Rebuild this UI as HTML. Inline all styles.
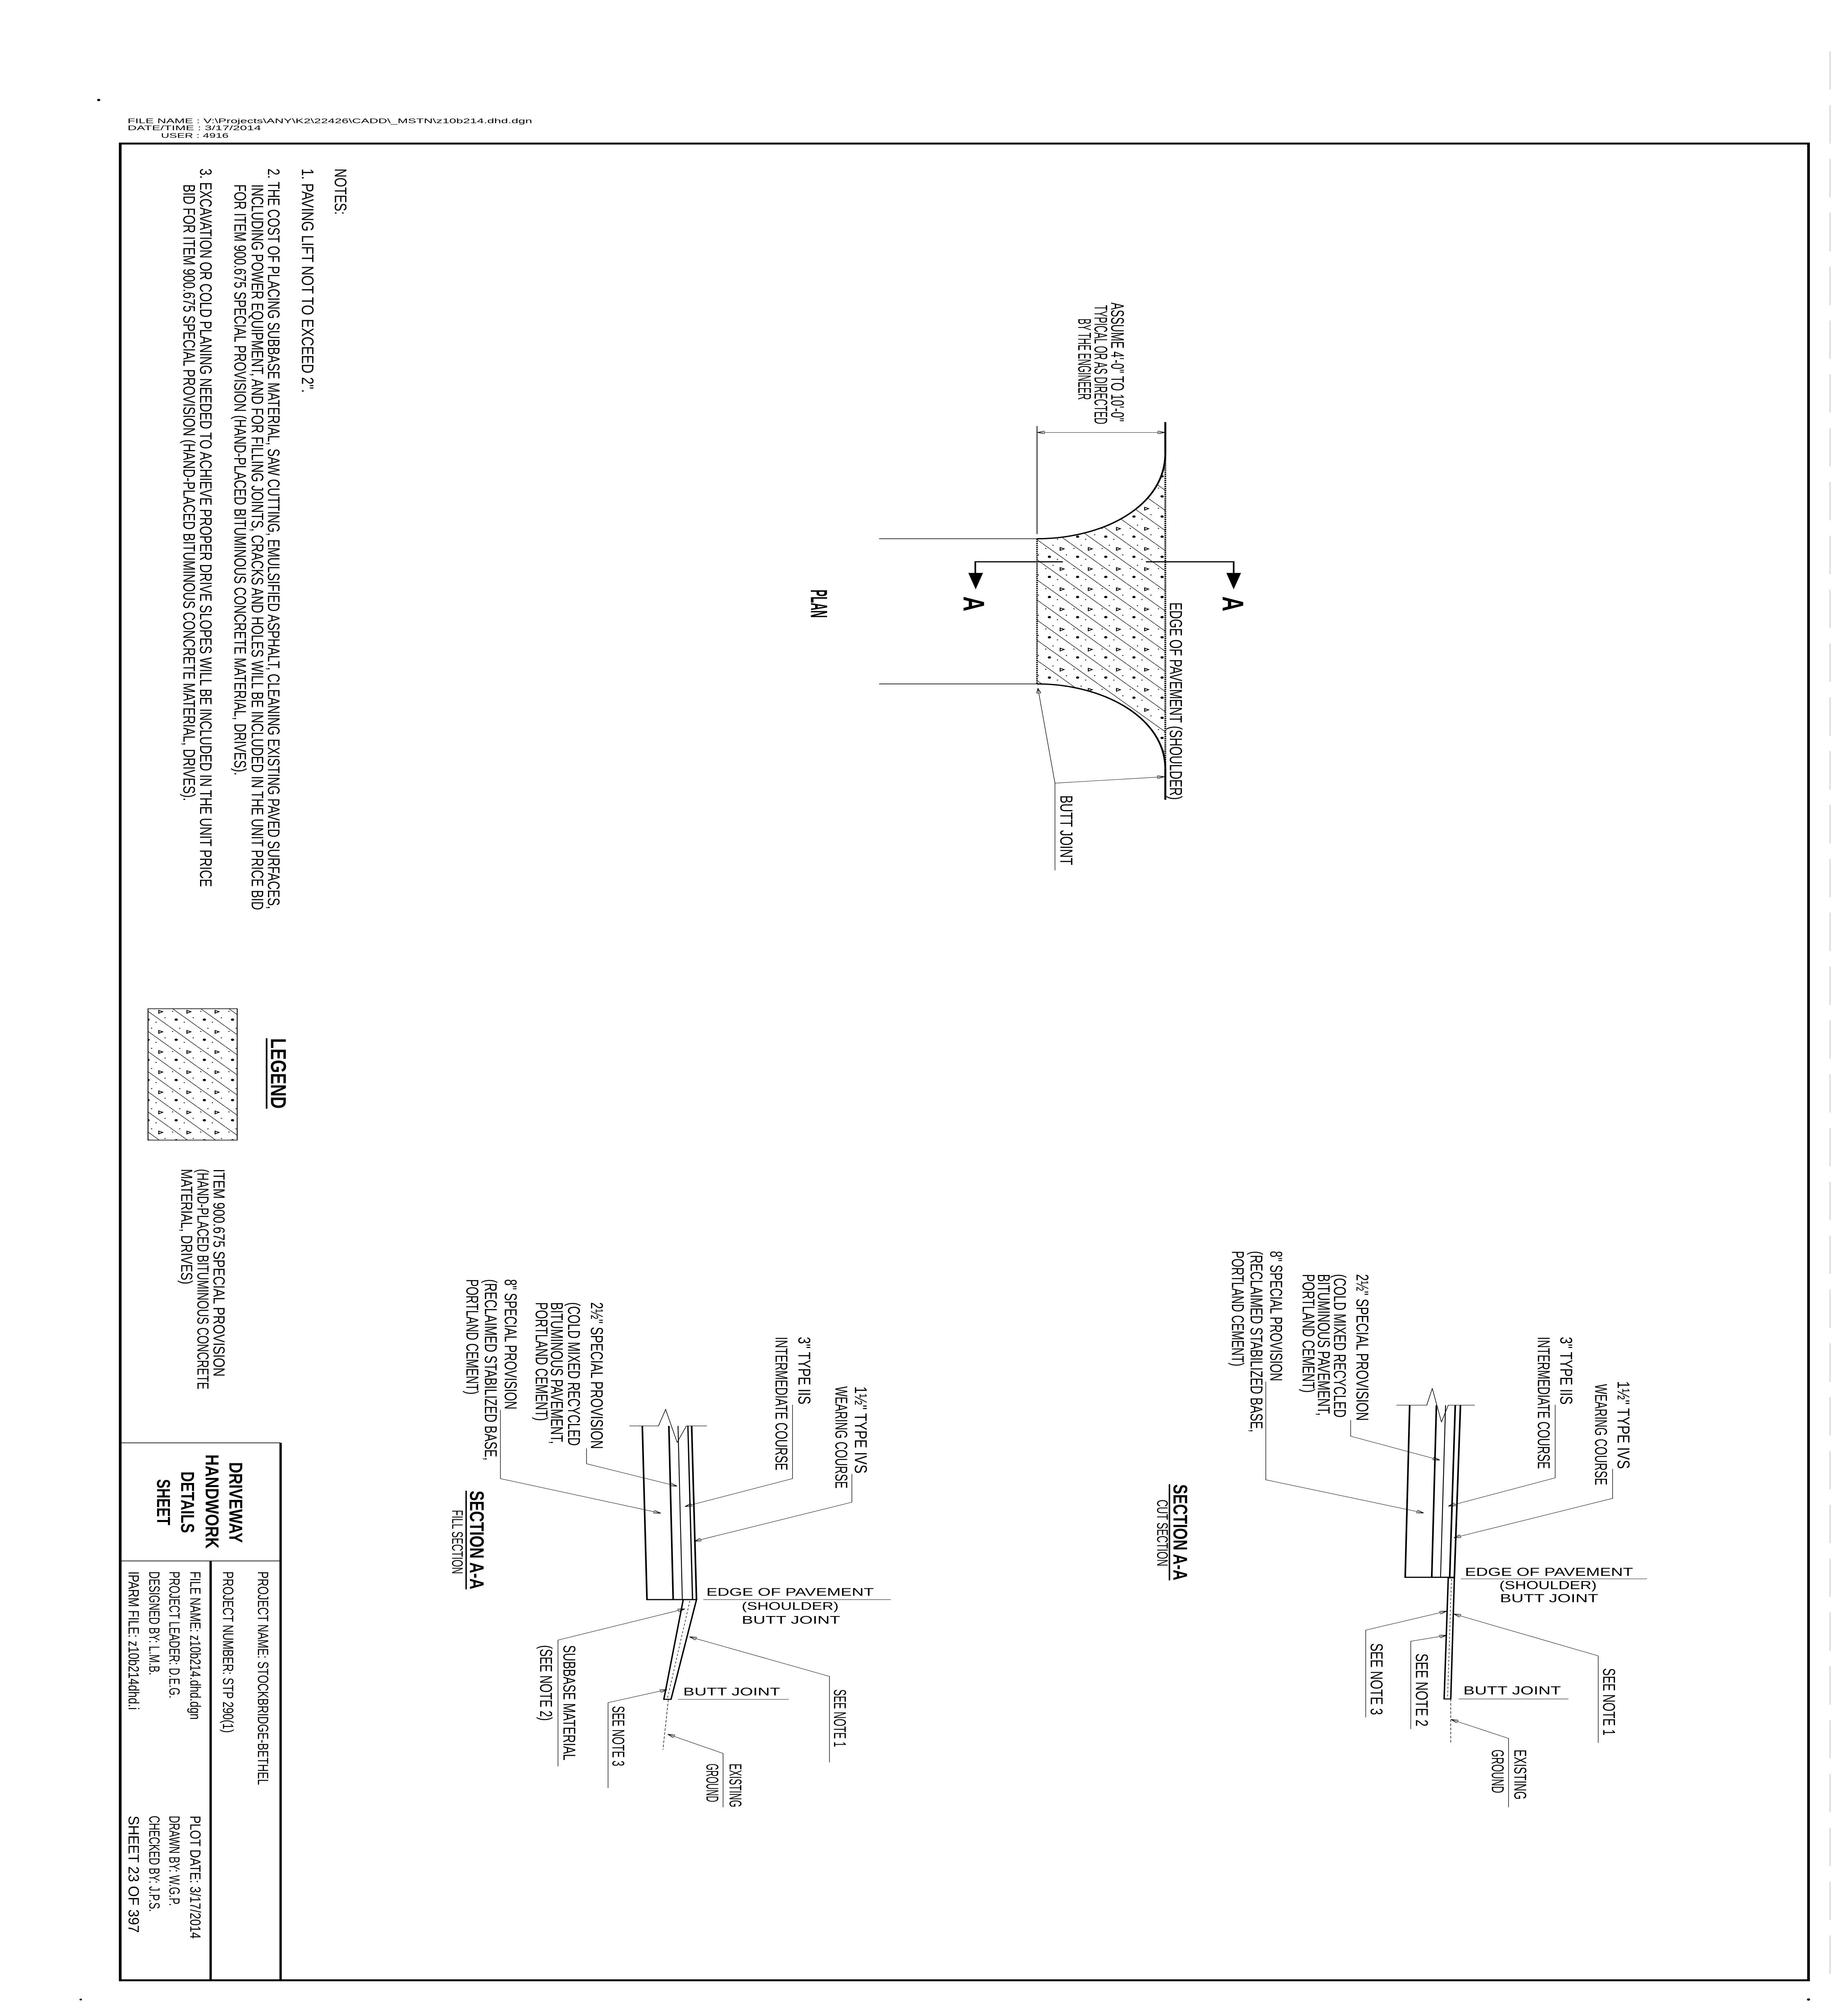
<!DOCTYPE html>
<html><head><meta charset="utf-8">
<style>
html,body{margin:0;padding:0;background:#fff;width:100%;height:100%;overflow:hidden;}
svg{display:block;position:fixed;left:0;top:0;width:100vw;height:100vh;}
text{font-family:"Liberation Sans Narrow","Liberation Sans",sans-serif;fill:#000;}
.b{font-weight:bold;}
</style></head>
<body>
<svg xmlns="http://www.w3.org/2000/svg" viewBox="0 0 1030 1567.4" preserveAspectRatio="none">
<defs>
<marker id="ar" viewBox="0 0 10 6" refX="10" refY="3" markerWidth="4" markerHeight="2.4" markerUnits="userSpaceOnUse" orient="auto">
<path d="M0,0 L10,3 L0,6 Z" fill="none" stroke="#000" stroke-width="1"/>
</marker>
<pattern id="hat" patternUnits="userSpaceOnUse" width="15.7" height="15.7">
<line x1="-1" y1="-1" x2="16.7" y2="16.7" stroke="#000" stroke-width="0.35"/>
<circle cx="4" cy="10.5" r="0.9" fill="#000"/>
<path d="M10,3.3 L12.2,4.3 L10,5.5 Z" fill="none" stroke="#000" stroke-width="0.55"/>
<circle cx="2" cy="4" r="0.35" fill="#000"/>
<circle cx="8.5" cy="12.5" r="0.35" fill="#000"/>
<circle cx="13.5" cy="9" r="0.35" fill="#000"/>
<circle cx="6" cy="1.5" r="0.35" fill="#000"/>
</pattern>
</defs>

<rect x="0" y="0" width="1030" height="1567.4" fill="#fff"/>

<circle cx="55" cy="78" r="0.9" fill="#000"/>
<circle cx="45" cy="1560" r="0.7" fill="#000"/>
<circle cx="1008" cy="1560" r="0.9" fill="#000"/>
<line x1="1020" y1="40" x2="1020" y2="1540" stroke="#ddd" stroke-width="0.8" stroke-dasharray="30 12"/>

<text x="71.1" y="96.1" font-size="5.1" textLength="225.5" lengthAdjust="spacingAndGlyphs">FILE NAME : V:\Projects\ANY\K2\22426\CADD\_MSTN\z10b214.dhd.dgn</text>
<text x="71.1" y="101.6" font-size="5.1" textLength="74.4" lengthAdjust="spacingAndGlyphs">DATE/TIME : 3/17/2014</text>
<text x="89.7" y="107.5" font-size="5.1" textLength="37.7" lengthAdjust="spacingAndGlyphs">USER : 4916</text>

<rect x="67" y="112" width="941" height="1433" fill="none" stroke="#000" stroke-width="1.5"/>

<g font-size="9.4">
<text transform="translate(186.6,131.5) rotate(90)" textLength="36" lengthAdjust="spacingAndGlyphs">NOTES:</text>
<text transform="translate(168.3,131.5) rotate(90)" textLength="175" lengthAdjust="spacingAndGlyphs">1. PAVING LIFT NOT TO EXCEED 2".</text>
<text transform="translate(149.3,131.5) rotate(90)" textLength="577.8" lengthAdjust="spacingAndGlyphs">2. THE COST OF PLACING SUBBASE MATERIAL, SAW CUTTING, EMULSIFIED ASPHALT, CLEANING EXISTING PAVED SURFACES,</text>
<text transform="translate(140.3,143.8) rotate(90)" textLength="566.2" lengthAdjust="spacingAndGlyphs">INCLUDING POWER EQUIPMENT, AND FOR FILLING JOINTS, CRACKS AND HOLES WILL BE INCLUDED IN THE UNIT PRICE BID</text>
<text transform="translate(130.7,143.8) rotate(90)" textLength="461.2" lengthAdjust="spacingAndGlyphs">FOR ITEM 900.675 SPECIAL PROVISION (HAND-PLACED BITUMINOUS CONCRETE MATERIAL, DRIVES).</text>
<text transform="translate(111.5,131.5) rotate(90)" textLength="560.5" lengthAdjust="spacingAndGlyphs">3. EXCAVATION OR COLD PLANING NEEDED TO ACHIEVE PROPER DRIVE SLOPES WILL BE INCLUDED IN THE UNIT PRICE</text>
<text transform="translate(102.2,143.8) rotate(90)" textLength="481.2" lengthAdjust="spacingAndGlyphs">BID FOR ITEM 900.675 SPECIAL PROVISION (HAND-PLACED BITUMINOUS CONCRETE MATERIAL, DRIVES).</text>
</g>

<g>
<path d="M649.5,353.5 C649.5,395 615,420.3 578,420.3 L578,533.6 C615,533.6 649.5,560 649.5,600 Z" fill="url(#hat)" stroke="none"/>
<path d="M649.5,353.5 C649.5,395 615,420.3 578,420.3" fill="none" stroke="#000" stroke-width="1"/>
<path d="M578,533.6 C615,533.6 649.5,560 649.5,600" fill="none" stroke="#000" stroke-width="1"/>
<line x1="649.5" y1="329.3" x2="649.5" y2="353.5" stroke="#000" stroke-width="1.1"/>
<line x1="649.5" y1="600" x2="649.5" y2="624" stroke="#000" stroke-width="1.1"/>
<line x1="649.5" y1="353.5" x2="649.5" y2="600" stroke="#000" stroke-width="1" stroke-dasharray="1 0.6"/>
<line x1="578" y1="332.4" x2="578" y2="416.6" stroke="#000" stroke-width="0.45"/>
<line x1="578" y1="420.3" x2="578" y2="533.6" stroke="#000" stroke-width="0.9" stroke-dasharray="1 0.6"/>
<line x1="490" y1="420.3" x2="578" y2="420.3" stroke="#000" stroke-width="0.5"/>
<line x1="490" y1="533.6" x2="578" y2="533.6" stroke="#000" stroke-width="0.5"/>
<line x1="610" y1="337.4" x2="578.3" y2="337.4" stroke="#000" stroke-width="0.3" marker-end="url(#ar)"/>
<line x1="610" y1="337.4" x2="649.2" y2="337.4" stroke="#000" stroke-width="0.3" marker-end="url(#ar)"/>
<g font-size="10.2">
<text transform="translate(619.3,236) rotate(90)" textLength="93" lengthAdjust="spacingAndGlyphs">ASSUME 4'-0" TO 10'-0"</text>
<text transform="translate(610.1,238) rotate(90)" textLength="93" lengthAdjust="spacingAndGlyphs">TYPICAL OR AS DIRECTED</text>
<text transform="translate(601,248.5) rotate(90)" textLength="63.5" lengthAdjust="spacingAndGlyphs">BY THE ENGINEER</text>
</g>
<path d="M592.4,438.3 L543.6,438.3 L543.6,448" fill="none" stroke="#000" stroke-width="0.9"/>
<path d="M539.7,447 L547.9,447 L543.8,459.8 Z" fill="#000"/>
<path d="M638.7,438.3 L687.6,438.3 L687.6,448" fill="none" stroke="#000" stroke-width="0.9"/>
<path d="M683.5,447 L691.7,447 L687.6,459.8 Z" fill="#000"/>
<text class="b" transform="translate(537,465.3) rotate(90)" font-size="16.6" textLength="11.7" lengthAdjust="spacingAndGlyphs">A</text>
<text class="b" transform="translate(681.5,465.3) rotate(90)" font-size="16.6" textLength="11.7" lengthAdjust="spacingAndGlyphs">A</text>
<text transform="translate(652,470) rotate(90)" font-size="9.7" textLength="154" lengthAdjust="spacingAndGlyphs">EDGE OF PAVEMENT (SHOULDER)</text>
<path d="M588,611 L578.5,537" fill="none" stroke="#000" stroke-width="0.3" marker-end="url(#ar)"/>
<path d="M588,611 L649,606" fill="none" stroke="#000" stroke-width="0.3" marker-end="url(#ar)"/>
<line x1="588" y1="611" x2="588" y2="679" stroke="#000" stroke-width="0.3"/>
<text transform="translate(591,620.5) rotate(90)" font-size="9.7" textLength="54.5" lengthAdjust="spacingAndGlyphs">BUTT JOINT</text>
<text class="b" transform="translate(452,460) rotate(90)" font-size="13" textLength="22" lengthAdjust="spacingAndGlyphs">PLAN</text>
</g>

<rect x="82.5" y="787" width="49.7" height="102.5" fill="url(#hat)" stroke="#000" stroke-width="0.5"/>
<text class="b" transform="translate(151,810) rotate(90)" font-size="12" textLength="55" lengthAdjust="spacingAndGlyphs">LEGEND</text>
<line x1="148.6" y1="810" x2="148.6" y2="865" stroke="#000" stroke-width="0.9"/>
<g font-size="9">
<text transform="translate(119,912) rotate(90)" textLength="162" lengthAdjust="spacingAndGlyphs">ITEM 900.675 SPECIAL PROVISION</text>
<text transform="translate(110,912) rotate(90)" textLength="172" lengthAdjust="spacingAndGlyphs">(HAND-PLACED BITUMINOUS CONCRETE</text>
<text transform="translate(101,912) rotate(90)" textLength="90" lengthAdjust="spacingAndGlyphs">MATERIAL, DRIVES)</text>
</g>

<g>
<path d="M350.9,1112.5 L367,1112.5 L371,1099.6 L377.4,1125.3 L382.6,1112.5 L394,1112.5" fill="none" stroke="#000" stroke-width="0.35"/>
<line x1="358" y1="1112.5" x2="360.6" y2="1248" stroke="#000" stroke-width="0.9"/>
<line x1="372.8" y1="1112.5" x2="375.2" y2="1248" stroke="#000" stroke-width="0.9"/>
<line x1="377.9" y1="1112.5" x2="380.3" y2="1248" stroke="#000" stroke-width="0.5"/>
<line x1="383.4" y1="1112.5" x2="386" y2="1248" stroke="#000" stroke-width="0.7"/>
<line x1="385.5" y1="1112.5" x2="388.2" y2="1248" stroke="#000" stroke-width="0.9"/>
<line x1="360.2" y1="1248" x2="388.6" y2="1248" stroke="#000" stroke-width="0.9"/>
<path d="M380.8,1248 L388.2,1248 L374,1325.8 L370,1325.8 Z" fill="none" stroke="#000" stroke-width="0.8"/>
<line x1="384.5" y1="1249" x2="372" y2="1325" stroke="#000" stroke-width="0.3" stroke-dasharray="1.5 1.5"/>
<line x1="372.5" y1="1326" x2="369.5" y2="1365" stroke="#000" stroke-width="0.3" stroke-dasharray="2 1.2"/>
<g fill="none" stroke="#000" stroke-width="0.3">
<path d="M474.8,1150 L474.8,1172 L386.9,1202.5" marker-end="url(#ar)"/>
<path d="M441.7,1096 L441.7,1153.6 L381.7,1175.4" marker-end="url(#ar)"/>
<path d="M326.9,1130 L326.9,1142 L377.4,1159.5" marker-end="url(#ar)"/>
<path d="M278.9,1100 L278.9,1153.6 L368.3,1180.6" marker-end="url(#ar)"/>
<path d="M311,1378 L311,1279.6 L381.7,1255.2" marker-end="url(#ar)"/>
<path d="M462.3,1375 L462.3,1307.9 L384.3,1277" marker-end="url(#ar)"/>
<path d="M338.9,1395 L338.9,1328.4 L371.8,1318.2" marker-end="url(#ar)"/>
<path d="M403,1410 L403,1368 L372.2,1353" marker-end="url(#ar)"/>
<line x1="392" y1="1248" x2="496.5" y2="1248"/>
<line x1="377.9" y1="1325.8" x2="439.6" y2="1325.8"/>
</g>
<g font-size="9.5">
<text transform="translate(476.5,1081.6) rotate(90)" textLength="68" lengthAdjust="spacingAndGlyphs">1½" TYPE IVS</text>
<text transform="translate(465.6,1081.6) rotate(90)" textLength="79.7" lengthAdjust="spacingAndGlyphs">WEARING COURSE</text>
<text transform="translate(445,1043) rotate(90)" textLength="52.7" lengthAdjust="spacingAndGlyphs">3" TYPE IIS</text>
<text transform="translate(432.3,1043) rotate(90)" textLength="104.2" lengthAdjust="spacingAndGlyphs">INTERMEDIATE COURSE</text>
<text transform="translate(329.4,1016) rotate(90)" textLength="114.5" lengthAdjust="spacingAndGlyphs">2½" SPECIAL PROVISION</text>
<text transform="translate(316.6,1016) rotate(90)" textLength="112" lengthAdjust="spacingAndGlyphs">(COLD MIXED RECYCLED</text>
<text transform="translate(307.1,1016) rotate(90)" textLength="110.6" lengthAdjust="spacingAndGlyphs">BITUMINOUS PAVEMENT,</text>
<text transform="translate(298.6,1016) rotate(90)" textLength="92.6" lengthAdjust="spacingAndGlyphs">PORTLAND CEMENT)</text>
<text transform="translate(281.4,998) rotate(90)" textLength="101.6" lengthAdjust="spacingAndGlyphs">8" SPECIAL PROVISION</text>
<text transform="translate(270.3,998) rotate(90)" textLength="141.5" lengthAdjust="spacingAndGlyphs">(RECLAIMED STABILIZED BASE,</text>
<text transform="translate(260,998) rotate(90)" textLength="90" lengthAdjust="spacingAndGlyphs">PORTLAND CEMENT)</text>
<text transform="translate(314,1283.5) rotate(90)" textLength="89.9" lengthAdjust="spacingAndGlyphs">SUBBASE MATERIAL</text>
<text transform="translate(301.1,1283.5) rotate(90)" textLength="59.1" lengthAdjust="spacingAndGlyphs">(SEE NOTE 2)</text>
<text transform="translate(464.8,1318) rotate(90)" textLength="45" lengthAdjust="spacingAndGlyphs">SEE NOTE 1</text>
<text transform="translate(341.4,1331) rotate(90)" textLength="47" lengthAdjust="spacingAndGlyphs">SEE NOTE 3</text>
<text transform="translate(406.6,1376) rotate(90)" textLength="34" lengthAdjust="spacingAndGlyphs">EXISTING</text>
<text transform="translate(393.7,1376) rotate(90)" textLength="30" lengthAdjust="spacingAndGlyphs">GROUND</text>
</g>
<g font-size="8.6">
<text x="393.7" y="1245" textLength="93.3" lengthAdjust="spacingAndGlyphs">EDGE OF PAVEMENT</text>
<text x="413.4" y="1255.9" textLength="54" lengthAdjust="spacingAndGlyphs">(SHOULDER)</text>
<text x="413.4" y="1266.7" textLength="54.9" lengthAdjust="spacingAndGlyphs">BUTT JOINT</text>
<text x="380.8" y="1322.8" textLength="54" lengthAdjust="spacingAndGlyphs">BUTT JOINT</text>
</g>
<text class="b" transform="translate(262,1163) rotate(90)" font-size="11" textLength="77" lengthAdjust="spacingAndGlyphs">SECTION A-A</text>
<line x1="259.8" y1="1163" x2="259.8" y2="1240" stroke="#000" stroke-width="0.8"/>
<text transform="translate(252,1178) rotate(90)" font-size="8.5" textLength="50" lengthAdjust="spacingAndGlyphs">FILL SECTION</text>
</g>

<g>
<path d="M778.3,1096.3 L795.2,1096.3 L798.3,1083.2 L803.4,1109.5 L807.2,1096.3 L822,1096.3" fill="none" stroke="#000" stroke-width="0.35"/>
<line x1="785.7" y1="1096.3" x2="783.2" y2="1230.6" stroke="#000" stroke-width="0.9"/>
<line x1="800.6" y1="1096.3" x2="798" y2="1230.6" stroke="#000" stroke-width="0.9"/>
<line x1="805.7" y1="1096.3" x2="802.9" y2="1230.6" stroke="#000" stroke-width="0.5"/>
<line x1="811.1" y1="1096.3" x2="808" y2="1230.6" stroke="#000" stroke-width="0.9"/>
<line x1="814" y1="1096.3" x2="810.6" y2="1230.6" stroke="#000" stroke-width="0.9"/>
<line x1="782.8" y1="1230.6" x2="811" y2="1230.6" stroke="#000" stroke-width="0.9"/>
<path d="M807.2,1231 L810.6,1231 L808.6,1325.5 L804.9,1325.5 Z" fill="none" stroke="#000" stroke-width="0.8"/>
<line x1="809" y1="1232" x2="806.8" y2="1325" stroke="#000" stroke-width="0.3" stroke-dasharray="1.5 1.5"/>
<line x1="808.6" y1="1325.5" x2="808.6" y2="1359.7" stroke="#000" stroke-width="0.3" stroke-dasharray="2 1.2"/>
<g fill="none" stroke="#000" stroke-width="0.3">
<path d="M898.8,1146 L898.8,1169 L810.3,1199.8" marker-end="url(#ar)"/>
<path d="M866.8,1096 L866.8,1153 L807.2,1175.1" marker-end="url(#ar)"/>
<path d="M752.8,1108 L752.8,1120.5 L802.5,1139.2" marker-end="url(#ar)"/>
<path d="M705.5,1078 L705.5,1154.5 L793.5,1180.4" marker-end="url(#ar)"/>
<path d="M890.8,1359.7 L890.8,1291.9 L810.3,1259.2" marker-end="url(#ar)"/>
<path d="M786.3,1349 L786.3,1280.5 L806.3,1275.9" marker-end="url(#ar)"/>
<path d="M761.2,1339.9 L761.2,1271.8 L806.3,1257" marker-end="url(#ar)"/>
<path d="M840.8,1410 L840.8,1356.3 L808.8,1341.5" marker-end="url(#ar)"/>
<line x1="814.3" y1="1231.8" x2="918" y2="1231.8"/>
<line x1="813.1" y1="1325.5" x2="874.2" y2="1325.5"/>
</g>
<g font-size="9.5">
<text transform="translate(901.6,1077.5) rotate(90)" textLength="68.5" lengthAdjust="spacingAndGlyphs">1½" TYPE IVS</text>
<text transform="translate(889,1079.8) rotate(90)" textLength="78.9" lengthAdjust="spacingAndGlyphs">WEARING COURSE</text>
<text transform="translate(869.7,1043) rotate(90)" textLength="52.8" lengthAdjust="spacingAndGlyphs">3" TYPE IIS</text>
<text transform="translate(857.1,1043) rotate(90)" textLength="103" lengthAdjust="spacingAndGlyphs">INTERMEDIATE COURSE</text>
<text transform="translate(756,994) rotate(90)" textLength="114.5" lengthAdjust="spacingAndGlyphs">2½" SPECIAL PROVISION</text>
<text transform="translate(743.5,994) rotate(90)" textLength="112" lengthAdjust="spacingAndGlyphs">(COLD MIXED RECYCLED</text>
<text transform="translate(734.5,994) rotate(90)" textLength="110.6" lengthAdjust="spacingAndGlyphs">BITUMINOUS PAVEMENT,</text>
<text transform="translate(726,994) rotate(90)" textLength="92.6" lengthAdjust="spacingAndGlyphs">PORTLAND CEMENT)</text>
<text transform="translate(708,976) rotate(90)" textLength="101.6" lengthAdjust="spacingAndGlyphs">8" SPECIAL PROVISION</text>
<text transform="translate(697,976) rotate(90)" textLength="141.5" lengthAdjust="spacingAndGlyphs">(RECLAIMED STABILIZED BASE,</text>
<text transform="translate(686.6,976) rotate(90)" textLength="90" lengthAdjust="spacingAndGlyphs">PORTLAND CEMENT)</text>
<text transform="translate(893.5,1301.5) rotate(90)" textLength="52.5" lengthAdjust="spacingAndGlyphs">SEE NOTE 1</text>
<text transform="translate(789.2,1290) rotate(90)" textLength="57" lengthAdjust="spacingAndGlyphs">SEE NOTE 2</text>
<text transform="translate(764,1282) rotate(90)" textLength="56" lengthAdjust="spacingAndGlyphs">SEE NOTE 3</text>
<text transform="translate(844,1365) rotate(90)" textLength="39" lengthAdjust="spacingAndGlyphs">EXISTING</text>
<text transform="translate(831.5,1365) rotate(90)" textLength="34" lengthAdjust="spacingAndGlyphs">GROUND</text>
</g>
<g font-size="9">
<text x="816.5" y="1229.5" textLength="93.7" lengthAdjust="spacingAndGlyphs">EDGE OF PAVEMENT</text>
<text x="835.7" y="1239.8" textLength="54.2" lengthAdjust="spacingAndGlyphs">(SHOULDER)</text>
<text x="836" y="1250" textLength="54.8" lengthAdjust="spacingAndGlyphs">BUTT JOINT</text>
<text x="815.6" y="1322" textLength="54.4" lengthAdjust="spacingAndGlyphs">BUTT JOINT</text>
</g>
<text class="b" transform="translate(654,1158) rotate(90)" font-size="11" textLength="75" lengthAdjust="spacingAndGlyphs">SECTION A-A</text>
<line x1="651.8" y1="1158" x2="651.8" y2="1233" stroke="#000" stroke-width="0.8"/>
<text transform="translate(645,1170) rotate(90)" font-size="8.5" textLength="52" lengthAdjust="spacingAndGlyphs">CUT SECTION</text>
</g>

<g stroke="#000" fill="none">
<line x1="67" y1="1125.7" x2="156.4" y2="1125.7" stroke-width="0.5"/>
<line x1="156.4" y1="1125.7" x2="156.4" y2="1545" stroke-width="1.3"/>
<line x1="67" y1="1217.8" x2="156.4" y2="1217.8" stroke-width="0.5"/>
<line x1="117.4" y1="1217.8" x2="117.4" y2="1545" stroke-width="1.3"/>
</g>
<g font-size="10.4">
<text class="b" transform="translate(127.8,1140.7) rotate(90)" textLength="63" lengthAdjust="spacingAndGlyphs">DRIVEWAY</text>
<text class="b" transform="translate(114.6,1134.7) rotate(90)" textLength="73.5" lengthAdjust="spacingAndGlyphs">HANDWORK</text>
<text class="b" transform="translate(101,1148) rotate(90)" textLength="48" lengthAdjust="spacingAndGlyphs">DETAILS</text>
<text class="b" transform="translate(87.6,1154) rotate(90)" textLength="36" lengthAdjust="spacingAndGlyphs">SHEET</text>
</g>
<g font-size="8.2">
<text transform="translate(143.7,1226) rotate(90)" textLength="166.6" lengthAdjust="spacingAndGlyphs">PROJECT NAME:   STOCKBRIDGE-BETHEL</text>
<text transform="translate(124.3,1226) rotate(90)" textLength="126" lengthAdjust="spacingAndGlyphs">PROJECT NUMBER: STP 290(1)</text>
<text transform="translate(106,1226) rotate(90)" textLength="115.6" lengthAdjust="spacingAndGlyphs">FILE NAME: z10b214.dhd.dgn</text>
<text transform="translate(94.4,1226) rotate(90)" textLength="99" lengthAdjust="spacingAndGlyphs">PROJECT LEADER: D.E.G.</text>
<text transform="translate(83.2,1226) rotate(90)" textLength="81" lengthAdjust="spacingAndGlyphs">DESIGNED BY: L.M.B.</text>
<text transform="translate(71.6,1226) rotate(90)" textLength="108" lengthAdjust="spacingAndGlyphs">IPARM FILE: z10b214dhd.i</text>
<text transform="translate(106,1416.6) rotate(90)" textLength="96" lengthAdjust="spacingAndGlyphs">PLOT DATE: 3/17/2014</text>
<text transform="translate(94.4,1416.6) rotate(90)" textLength="70.4" lengthAdjust="spacingAndGlyphs">DRAWN BY: W.G.P.</text>
<text transform="translate(83.2,1416.6) rotate(90)" textLength="75" lengthAdjust="spacingAndGlyphs">CHECKED BY: J.P.S.</text>
<text transform="translate(71.6,1416.6) rotate(90)" textLength="91.4" lengthAdjust="spacingAndGlyphs">SHEET   23   OF   397</text>
</g>
</svg>
</body></html>
